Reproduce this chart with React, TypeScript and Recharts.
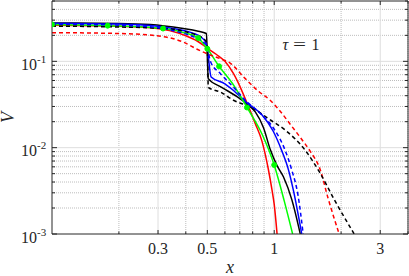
import React from 'react';
import { ComposedChart, Line, XAxis, YAxis, CartesianGrid } from 'recharts';

type P = { x: number; y: number };

const redSolid: P[] = [
  { x: 0.1, y: 0.262 }, { x: 0.2, y: 0.255 }, { x: 0.28, y: 0.245 }, { x: 0.4, y: 0.198 },
  { x: 0.45, y: 0.172 }, { x: 0.5, y: 0.142 }, { x: 0.55, y: 0.12 }, { x: 0.6, y: 0.1 },
  { x: 0.656, y: 0.072 }, { x: 0.704, y: 0.05 }, { x: 0.754, y: 0.033 }, { x: 0.822, y: 0.019 },
  { x: 0.88, y: 0.012 }, { x: 0.94, y: 0.0057 }, { x: 0.976, y: 0.0033 }, { x: 1.0, y: 0.0022 },
  { x: 1.03, y: 0.001 },
];

const greenSolid: P[] = [
  { x: 0.1, y: 0.268 }, { x: 0.178, y: 0.259 }, { x: 0.316, y: 0.24 }, { x: 0.4, y: 0.212 },
  { x: 0.455, y: 0.186 }, { x: 0.5, y: 0.14 }, { x: 0.565, y: 0.0875 }, { x: 0.65, y: 0.055 },
  { x: 0.754, y: 0.0292 }, { x: 0.88, y: 0.0145 }, { x: 1.0, y: 0.0063 }, { x: 1.11, y: 0.0024 },
  { x: 1.21, y: 0.001 },
];

const greenMarkers: P[] = [
  { x: 0.1, y: 0.268 }, { x: 0.178, y: 0.259 }, { x: 0.316, y: 0.24 }, { x: 0.455, y: 0.186 },
  { x: 0.5, y: 0.14 }, { x: 0.565, y: 0.0875 }, { x: 0.754, y: 0.0292 }, { x: 1.0, y: 0.0063 },
];

const blueSolid: P[] = [
  { x: 0.1, y: 0.277 }, { x: 0.2, y: 0.27 }, { x: 0.277, y: 0.26 }, { x: 0.35, y: 0.24 },
  { x: 0.434, y: 0.21 }, { x: 0.47, y: 0.19 }, { x: 0.495, y: 0.16 }, { x: 0.5, y: 0.14 },
  { x: 0.52, y: 0.066 }, { x: 0.6, y: 0.055 }, { x: 0.656, y: 0.046 }, { x: 0.754, y: 0.033 },
  { x: 0.88, y: 0.024 }, { x: 0.99, y: 0.0155 }, { x: 1.08, y: 0.0093 }, { x: 1.16, y: 0.0055 },
  { x: 1.22, y: 0.0032 }, { x: 1.33, y: 0.001 },
];

const blackSolid: P[] = [
  { x: 0.1, y: 0.278 }, { x: 0.2, y: 0.275 }, { x: 0.277, y: 0.268 }, { x: 0.39, y: 0.24 },
  { x: 0.45, y: 0.225 }, { x: 0.495, y: 0.21 }, { x: 0.505, y: 0.063 }, { x: 0.58, y: 0.05 },
  { x: 0.68, y: 0.039 }, { x: 0.754, y: 0.032 }, { x: 0.822, y: 0.026 }, { x: 0.895, y: 0.017 },
  { x: 0.96, y: 0.0095 }, { x: 1.03, y: 0.0062 }, { x: 1.1, y: 0.0046 }, { x: 1.2, y: 0.0025 },
  { x: 1.31, y: 0.001 },
];

const redDashed: P[] = [
  { x: 0.1, y: 0.215 }, { x: 0.2, y: 0.21 }, { x: 0.283, y: 0.2 }, { x: 0.39, y: 0.167 },
  { x: 0.45, y: 0.138 }, { x: 0.5, y: 0.122 }, { x: 0.573, y: 0.107 }, { x: 0.635, y: 0.095 },
  { x: 0.728, y: 0.066 }, { x: 0.85, y: 0.045 }, { x: 0.959, y: 0.0354 }, { x: 1.064, y: 0.0264 },
  { x: 1.18, y: 0.0187 }, { x: 1.308, y: 0.0132 }, { x: 1.451, y: 0.0091 }, { x: 1.609, y: 0.0056 },
  { x: 1.747, y: 0.0026 }, { x: 1.96, y: 0.001 },
];

const blackDashed: P[] = [
  { x: 0.1, y: 0.256 }, { x: 0.2, y: 0.25 }, { x: 0.283, y: 0.244 }, { x: 0.35, y: 0.235 },
  { x: 0.4, y: 0.22 }, { x: 0.45, y: 0.2 }, { x: 0.49, y: 0.175 }, { x: 0.5, y: 0.15 },
  { x: 0.505, y: 0.05 }, { x: 0.573, y: 0.044 }, { x: 0.656, y: 0.0354 }, { x: 0.78, y: 0.0296 },
  { x: 0.96, y: 0.021 }, { x: 1.12, y: 0.016 }, { x: 1.38, y: 0.0093 }, { x: 1.6, y: 0.0052 },
  { x: 1.88, y: 0.0024 }, { x: 2.29, y: 0.001 },
];

const blueDashed: P[] = [
  { x: 0.1, y: 0.27 }, { x: 0.2, y: 0.262 }, { x: 0.3, y: 0.245 }, { x: 0.38, y: 0.215 },
  { x: 0.434, y: 0.192 }, { x: 0.48, y: 0.167 }, { x: 0.5, y: 0.145 }, { x: 0.516, y: 0.1 },
  { x: 0.573, y: 0.072 }, { x: 0.656, y: 0.05 }, { x: 0.754, y: 0.034 }, { x: 0.865, y: 0.025 },
  { x: 0.99, y: 0.017 }, { x: 1.12, y: 0.0093 }, { x: 1.2, y: 0.0055 }, { x: 1.28, y: 0.0028 },
  { x: 1.35, y: 0.001 },
];

const xMajorTicks = [0.3, 0.5, 1, 3];
const xMajorLabels = ['0.3', '0.5', '1', '3'];
const xAllTicks = [0.2, 0.3, 0.4, 0.5, 0.6, 0.7, 0.8, 0.9, 1, 2, 3, 4];
const xMinorGrid = [0.2, 0.4, 0.6, 0.7, 0.8, 0.9, 2, 4];

const yMajorTicks = [0.001, 0.01, 0.1];
const yMajorExps = ['-3', '-2', '-1'];
const yAllTicks = [
  0.001, 0.002, 0.003, 0.004, 0.005, 0.006, 0.007, 0.008, 0.009,
  0.01, 0.02, 0.03, 0.04, 0.05, 0.06, 0.07, 0.08, 0.09,
  0.1, 0.2, 0.3, 0.4, 0.5,
];
const yMinorGrid = [
  0.002, 0.003, 0.004, 0.005, 0.006, 0.007, 0.008, 0.009,
  0.02, 0.03, 0.04, 0.05, 0.06, 0.07, 0.08, 0.09,
  0.2, 0.3, 0.4,
];

const AX = '#262626';
const FONT = 'Liberation Serif, Times New Roman, serif';

const idxOf = (arr: number[], v: number) => arr.findIndex((m) => Math.abs(m - v) < 1e-9);

const BottomTick = (p: any) => {
  const v = p.payload.value;
  const i = idxOf(xMajorTicks, v);
  const len = i >= 0 ? 4 : 2.5;
  return (
    <g>
      <line x1={p.x} x2={p.x} y1={p.y} y2={p.y - len} stroke={AX} strokeWidth={1} />
      {i >= 0 && (
        <text x={p.x} y={p.y + 20} textAnchor="middle" fontFamily={FONT} fontSize={16} fill={AX}>
          {xMajorLabels[i]}
        </text>
      )}
    </g>
  );
};

const TopTick = (p: any) => {
  const v = p.payload.value;
  const i = idxOf(xMajorTicks, v);
  const len = i >= 0 ? 4 : 2.5;
  return <line x1={p.x} x2={p.x} y1={p.y} y2={p.y + len} stroke={AX} strokeWidth={1} />;
};

const LeftTick = (p: any) => {
  const v = p.payload.value;
  const i = idxOf(yMajorTicks, v);
  const len = i >= 0 ? 5 : 3;
  return (
    <g>
      <line x1={p.x} x2={p.x + len} y1={p.y} y2={p.y} stroke={AX} strokeWidth={1} />
      {i >= 0 && (
        <text x={p.x - 31} y={p.y + 8.5} textAnchor="start" fontFamily={FONT} fontSize={16} fill={AX}>
          <tspan>10</tspan>
          <tspan dy={-7} fontSize={11}>{yMajorExps[i]}</tspan>
        </text>
      )}
    </g>
  );
};

const RightTick = (p: any) => {
  const v = p.payload.value;
  const i = idxOf(yMajorTicks, v);
  const len = i >= 0 ? 5 : 3;
  return <line x1={p.x} x2={p.x - len} y1={p.y} y2={p.y} stroke={AX} strokeWidth={1} />;
};

const series = [
  { data: redSolid, color: '#ff0000', dash: undefined },
  { data: blackSolid, color: '#000000', dash: undefined },
  { data: blueSolid, color: '#0000ff', dash: undefined },
  { data: greenSolid, color: '#00ff00', dash: undefined },
  { data: redDashed, color: '#ff0000', dash: '4 3' },
  { data: blackDashed, color: '#000000', dash: '4 3' },
  { data: blueDashed, color: '#0000ff', dash: '4 3' },
];

export default function App() {
  return (
    <div style={{ position: 'fixed', left: 0, top: 0, width: 409, height: 276, background: '#fff' }}>
      <ComposedChart width={409} height={276} margin={{ top: 0, right: 0, bottom: 0, left: 0 }}>
        <CartesianGrid
          horizontalValues={yMinorGrid}
          verticalValues={xMinorGrid}
          stroke="#bdbdbd"
          strokeDasharray="1 1"
          strokeWidth={1}
        />
        <CartesianGrid
          horizontalValues={[0.01, 0.1]}
          verticalValues={xMajorTicks}
          stroke="#dedede"
          strokeWidth={1}
        />
        <XAxis
          xAxisId={0}
          dataKey="x"
          type="number"
          scale="log"
          domain={[0.1, 4]}
          allowDataOverflow
          ticks={xAllTicks}
          interval={0}
          tickSize={0}
          tickMargin={0}
          tickLine={false}
          tick={<BottomTick />}
          height={42}
          axisLine={{ stroke: AX, strokeWidth: 1 }}
        />
        <XAxis
          xAxisId="top"
          orientation="top"
          dataKey="x"
          type="number"
          scale="log"
          domain={[0.1, 4]}
          allowDataOverflow
          ticks={xAllTicks}
          interval={0}
          tickSize={0}
          tickMargin={0}
          tickLine={false}
          tick={<TopTick />}
          height={1}
          axisLine={{ stroke: AX, strokeWidth: 1 }}
        />
        <YAxis
          yAxisId={0}
          type="number"
          scale="log"
          domain={[0.001, 0.5]}
          allowDataOverflow
          ticks={yAllTicks}
          interval={0}
          tickSize={0}
          tickMargin={0}
          tickLine={false}
          tick={<LeftTick />}
          width={52}
          axisLine={{ stroke: AX, strokeWidth: 1 }}
        />
        <YAxis
          yAxisId="right"
          orientation="right"
          type="number"
          scale="log"
          domain={[0.001, 0.5]}
          allowDataOverflow
          ticks={yAllTicks}
          interval={0}
          tickSize={0}
          tickMargin={0}
          tickLine={false}
          tick={<RightTick />}
          width={1}
          axisLine={{ stroke: AX, strokeWidth: 1 }}
        />
        {series.map((s, i) => (
          <Line
            key={i}
            data={s.data}
            dataKey="y"
            type="monotoneX"
            stroke={s.color}
            strokeWidth={1.5}
            strokeDasharray={s.dash}
            dot={false}
            activeDot={false}
            isAnimationActive={false}
          />
        ))}
        <Line
          data={greenMarkers}
          dataKey="y"
          stroke="none"
          strokeWidth={0}
          dot={{ r: 2.5, fill: '#00ff00', stroke: '#00ff00', strokeWidth: 1 }}
          activeDot={false}
          isAnimationActive={false}
        />
      </ComposedChart>
      <svg
        width={409}
        height={276}
        style={{ position: 'absolute', left: 0, top: 0, pointerEvents: 'none' }}
      >
        <text x={230} y={273} textAnchor="middle" fontFamily={FONT} fontStyle="italic" fontSize={18} fill={AX}>
          x
        </text>
        <text
          x={0}
          y={0}
          transform="translate(14,117.5) rotate(-90)"
          textAnchor="middle"
          fontFamily={FONT}
          fontStyle="italic"
          fontSize={18}
          fill={AX}
        >
          V
        </text>
        <text x={282.5} y={50} fontFamily={FONT} fontSize={16} fill={AX}>
          <tspan fontStyle="italic">τ</tspan>
          <tspan x={293} textLength={13} lengthAdjust="spacingAndGlyphs">=</tspan>
          <tspan x={311.5}>1</tspan>
        </text>
      </svg>
    </div>
  );
}
